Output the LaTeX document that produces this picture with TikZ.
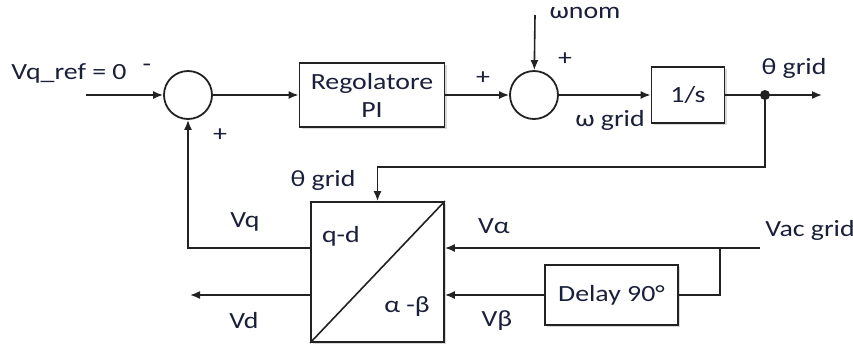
\documentclass[tikz,border=0pt]{standalone}
\usepackage{fontspec}
\setmainfont{Carlito}[FakeStretch=1.2]
\usepackage{xcolor}
\usetikzlibrary{calc, arrows.meta, shadows}

\definecolor{txtc}{HTML}{1A1F3A}
\definecolor{linec}{HTML}{222222}

\tikzset{
	blk/.style={draw=linec, line width=0.9pt, fill=white, align=center,
		drop shadow={shadow xshift=1pt, shadow yshift=-1pt, opacity=0.3}},
	sumnode/.style={draw=linec, line width=0.9pt, circle, minimum size=24pt, inner sep=0pt},
	sig/.style={draw=linec, line width=0.8pt, -{Latex[length=5pt,width=4pt]}},
	wire/.style={draw=linec, line width=0.8pt},
	lbl/.style={text=txtc, inner sep=0pt}
}

\begin{document}
\begin{tikzpicture}[x=0.5pt, y=-0.5pt,
		every node/.style={font=\fontsize{11.6}{14}\selectfont, text=txtc}]
			\useasboundingbox (0,0) rectangle (853,349);
			% blocks
			\node[sumnode] (s1) at (188,95) {};
			\node[blk, minimum width=72.5pt, minimum height=32pt] (pi) at (372,95) {Regolatore\\PI};
			\node[sumnode] (s2) at (534,95) {};
			\node[blk, minimum width=36.5pt, minimum height=28pt] (integ) at (688,95) {1/s};
			\node[blk, minimum width=66.5pt, minimum height=70pt] (park) at (377.5,272) {};
			\node[blk, minimum width=66.5pt, minimum height=30pt] (delay) at (611.5,295) {Delay 90°};
			\draw[wire] (park.south west) -- (park.north east);
			\node[lbl] (qd) at (341,236) {q-d};
			\node[lbl] (ab) at (407,307) {α -β};
			% free ends
			\coordinate (vin) at (86,95);
			\coordinate (wnom) at (535,15);
			\coordinate (dot) at (765,95);
			\coordinate (out) at (822,95);
			\coordinate (vac) at (760,248);
			\coordinate (split) at (720,248);
			\coordinate (vdout) at (190,295);
			% connectors
			\draw[sig] (vin) -- (s1);
			\draw[sig] (s1) -- (pi);
			\draw[sig] (pi) -- (s2);
			\draw[sig] (wnom) -- (s2);
			\draw[sig] (s2) -- (integ);
			\draw[sig] (integ) -- (out);
			\fill[linec] (dot) circle (2.5pt);
			\draw[sig] (dot) -- (765,167) -| (park.north);
			\draw[sig] ([yshift=12pt]park.west) -| (s1.south);
			\draw[sig] ([yshift=-11.5pt]park.west) -- (vdout);
			\draw[sig] (vac) -- ([yshift=12pt]park.east);
			\draw[wire] (split) |- (delay.east);
			\draw[sig] (delay.west) -- ([yshift=-11.5pt]park.east);
			% labels
			\node[lbl] (lref) at (69,73) {Vq\_ref = 0};
			\node[lbl] (m1) at (147,68) {-};
			\node[lbl] (p1) at (220,135) {+};
			\node[lbl] (p2) at (483,78) {+};
			\node[lbl] (p3) at (565,59) {+};
			\node[lbl] (lwnom) at (585,13) {ωnom};
			\node[lbl] (lwgrid) at (610,120) {ω grid};
			\node[lbl] (lth1) at (794,68) {θ grid};
			\node[lbl] (lth2) at (323,180) {θ grid};
			\node[lbl] (lvq) at (245,222) {Vq};
			\node[lbl] (lvd) at (244,321) {Vd};
			\node[lbl] (lva) at (494,226) {Vα};
			\node[lbl] (lvb) at (497,321) {Vβ};
			\node[lbl] (lvac) at (810,230) {Vac grid};
		\end{tikzpicture}
\end{document}
